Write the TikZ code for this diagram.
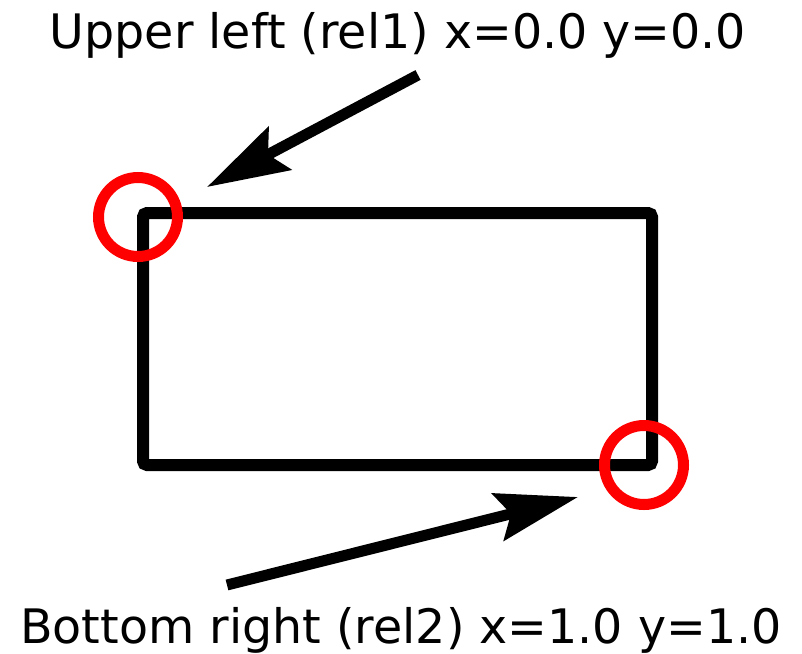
\documentclass[tikz,border=0pt]{standalone}
\usepackage{fontspec}
\setmainfont{DejaVu Sans}
\usepackage{tikz}
\usetikzlibrary{positioning, arrows.meta, calc}

\begin{document}
\begin{tikzpicture}[
  x=1pt, y=-1pt,
  >={Stealth[length=82pt, width=48pt, inset=13pt]},
  every node/.style={font=\fontsize{47.5}{57}\selectfont},
  box/.style  = {draw=black, line width=12pt, rounded corners=4pt, inner sep=0pt, outer sep=0pt, minimum width=509pt, minimum height=252pt},
  ring/.style = {circle, draw=red, line width=11pt, inner sep=0pt, minimum size=79pt},
  lbl/.style  = {anchor=base, inner sep=0pt},
  arr/.style  = {->, line width=11pt, black},
]
  \useasboundingbox (0,0) rectangle (802,653);
  % The frame with its two reference corners marked.
  \node[box]                                  (frame) at (397.5,339) {};
  \node[ring] at ([shift={(-5,4)}]frame.north west) (ul) {};
  \node[ring] at ([shift={(-8,0)}]frame.south east) (br) {};
  \node[lbl]  (top) at (398,48)  {Upper left (rel1) x=0.0 y=0.0};
  \node[lbl]  (bot) at (401,643) {Bottom right (rel2) x=1.0 y=1.0};
  \coordinate (t1) at (418,75);  \coordinate (h1) at (207,187);
  \coordinate (t2) at (227,585); \coordinate (h2) at (578,497);
  \foreach \a/\b in {t1/h1, t2/h2}
     \draw[arr] (\a) -- (\b);
\end{tikzpicture}
\end{document}
